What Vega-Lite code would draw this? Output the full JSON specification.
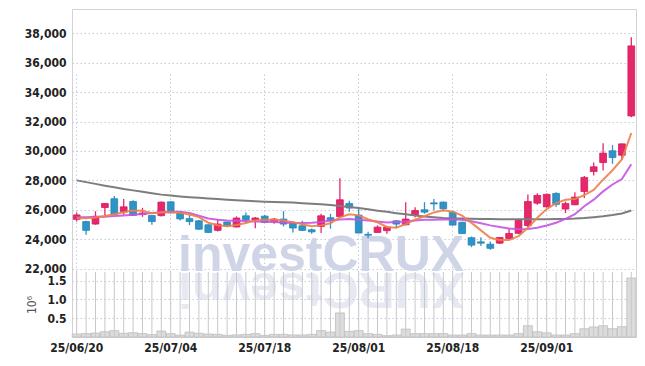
{
  "$schema": "https://vega.github.io/schema/vega-lite/v6.json",
  "width": 564,
  "height": 328,
  "autosize": {"type": "none"},
  "padding": {"left": 72, "top": 9, "right": 9, "bottom": 29},
  "background": "white",
  "config": {
    "view": {"stroke": "#d2d2d8", "strokeWidth": 1},
    "axis": {
      "labelFont": "DejaVu Sans Condensed",
      "labelFontSize": 12,
      "labelFontWeight": "bold",
      "labelColor": "#222222",
      "ticks": false,
      "domain": false,
      "gridColor": "#c6c9dc",
      "gridDash": [1.5, 2.5],
      "gridWidth": 1,
      "labelPadding": 6
    }
  },
  "data": {
    "values": [
      {"d": "25/06/20", "o": 25350, "h": 25820, "l": 25200, "c": 25650, "v": 80000, "ma5": 25430, "ma10": 25500, "mal": 28000},
      {"d": "25/06/23", "o": 25200, "h": 25250, "l": 24300, "c": 24600, "v": 90000, "ma5": 25420, "ma10": 25500, "mal": 27880},
      {"d": "25/06/24", "o": 25030, "h": 25900, "l": 24980, "c": 25550, "v": 105000, "ma5": 25480, "ma10": 25520, "mal": 27760},
      {"d": "25/06/25", "o": 26150, "h": 26450, "l": 25600, "c": 26430, "v": 140000, "ma5": 25580, "ma10": 25520, "mal": 27640},
      {"d": "25/06/26", "o": 26750, "h": 26930, "l": 25680, "c": 25700, "v": 170000, "ma5": 25700, "ma10": 25570, "mal": 27530},
      {"d": "25/06/27", "o": 25860, "h": 26730, "l": 25660, "c": 26200, "v": 100000, "ma5": 25830, "ma10": 25610, "mal": 27420},
      {"d": "25/06/30", "o": 26560, "h": 26650, "l": 25600, "c": 25620, "v": 115000, "ma5": 25950, "ma10": 25660, "mal": 27320},
      {"d": "25/07/01", "o": 25680, "h": 26130, "l": 25520, "c": 25780, "v": 90000, "ma5": 25940, "ma10": 25710, "mal": 27220},
      {"d": "25/07/02", "o": 25610, "h": 25650, "l": 24990, "c": 25200, "v": 65000, "ma5": 25760, "ma10": 25775, "mal": 27120},
      {"d": "25/07/03", "o": 25600, "h": 26560, "l": 25550, "c": 26520, "v": 160000, "ma5": 25840, "ma10": 25820, "mal": 27030},
      {"d": "25/07/04", "o": 26540, "h": 26580, "l": 25770, "c": 25790, "v": 90000, "ma5": 25830, "ma10": 25870, "mal": 26970},
      {"d": "25/07/07", "o": 25820, "h": 25870, "l": 25270, "c": 25380, "v": 50000, "ma5": 25790, "ma10": 25860, "mal": 26910},
      {"d": "25/07/08", "o": 25400, "h": 25660, "l": 24960, "c": 25200, "v": 130000, "ma5": 25680, "ma10": 25780, "mal": 26860},
      {"d": "25/07/09", "o": 25250, "h": 25300, "l": 24620, "c": 24680, "v": 100000, "ma5": 25500, "ma10": 25600, "mal": 26810},
      {"d": "25/07/10", "o": 24980, "h": 25020, "l": 24430, "c": 24460, "v": 80000, "ma5": 25120, "ma10": 25410, "mal": 26770},
      {"d": "25/07/11", "o": 24600, "h": 25370, "l": 24530, "c": 25030, "v": 70000, "ma5": 24950, "ma10": 25320, "mal": 26730},
      {"d": "25/07/14", "o": 25170, "h": 25200, "l": 24830, "c": 24910, "v": 45000, "ma5": 24880, "ma10": 25275, "mal": 26690},
      {"d": "25/07/15", "o": 24830, "h": 25550, "l": 24800, "c": 25440, "v": 55000, "ma5": 24960, "ma10": 25250, "mal": 26650},
      {"d": "25/07/16", "o": 25590, "h": 25820, "l": 25100, "c": 25320, "v": 70000, "ma5": 25100, "ma10": 25230, "mal": 26620},
      {"d": "25/07/17", "o": 25320, "h": 25510, "l": 24750, "c": 25440, "v": 90000, "ma5": 25280, "ma10": 25200, "mal": 26580},
      {"d": "25/07/18", "o": 25570, "h": 25650, "l": 25100, "c": 25140, "v": 45000, "ma5": 25320, "ma10": 25185, "mal": 26550},
      {"d": "25/07/21", "o": 25170, "h": 25440, "l": 25050, "c": 25370, "v": 70000, "ma5": 25330, "ma10": 25165, "mal": 26530},
      {"d": "25/07/22", "o": 25370, "h": 25910, "l": 24870, "c": 25030, "v": 70000, "ma5": 25270, "ma10": 25140, "mal": 26520},
      {"d": "25/07/23", "o": 25140, "h": 25200, "l": 24460, "c": 24760, "v": 55000, "ma5": 25160, "ma10": 25100, "mal": 26490},
      {"d": "25/07/24", "o": 24910, "h": 25250, "l": 24560, "c": 24600, "v": 55000, "ma5": 25010, "ma10": 25095, "mal": 26450},
      {"d": "25/07/25", "o": 24640, "h": 24730, "l": 24370, "c": 24500, "v": 70000, "ma5": 24880, "ma10": 25115, "mal": 26410},
      {"d": "25/07/28", "o": 24870, "h": 25730, "l": 24420, "c": 25590, "v": 170000, "ma5": 24940, "ma10": 25165, "mal": 26380},
      {"d": "25/07/29", "o": 25460, "h": 25730, "l": 24710, "c": 25280, "v": 130000, "ma5": 25080, "ma10": 25275, "mal": 26320},
      {"d": "25/07/30", "o": 25540, "h": 28150, "l": 25500, "c": 26680, "v": 640000, "ma5": 25480, "ma10": 25340, "mal": 26250},
      {"d": "25/07/31", "o": 26430, "h": 26610, "l": 25860, "c": 26120, "v": 150000, "ma5": 25700, "ma10": 25370, "mal": 26190},
      {"d": "25/08/01", "o": 25640, "h": 26100, "l": 24400, "c": 24420, "v": 170000, "ma5": 25620, "ma10": 25320, "mal": 26120},
      {"d": "25/08/04", "o": 24330, "h": 24510, "l": 24070, "c": 24270, "v": 90000, "ma5": 25360, "ma10": 25275, "mal": 26030},
      {"d": "25/08/05", "o": 24460, "h": 24940, "l": 24430, "c": 24820, "v": 70000, "ma5": 25150, "ma10": 25200, "mal": 25940},
      {"d": "25/08/06", "o": 24580, "h": 24860, "l": 24370, "c": 24820, "v": 35000, "ma5": 24830, "ma10": 25140, "mal": 25860},
      {"d": "25/08/07", "o": 25250, "h": 25300, "l": 24760, "c": 25030, "v": 53000, "ma5": 24780, "ma10": 25165, "mal": 25770},
      {"d": "25/08/08", "o": 24980, "h": 26520, "l": 24950, "c": 25370, "v": 210000, "ma5": 25020, "ma10": 25200, "mal": 25690},
      {"d": "25/08/11", "o": 25660, "h": 26180, "l": 25480, "c": 25950, "v": 90000, "ma5": 25330, "ma10": 25275, "mal": 25610},
      {"d": "25/08/12", "o": 26000, "h": 26520, "l": 25730, "c": 25840, "v": 90000, "ma5": 25560, "ma10": 25320, "mal": 25540},
      {"d": "25/08/13", "o": 26470, "h": 26730, "l": 25950, "c": 26400, "v": 90000, "ma5": 25820, "ma10": 25320, "mal": 25490},
      {"d": "25/08/14", "o": 26520, "h": 26560, "l": 25890, "c": 26070, "v": 90000, "ma5": 25960, "ma10": 25340, "mal": 25440},
      {"d": "25/08/18", "o": 25840, "h": 25880, "l": 24930, "c": 24960, "v": 53000, "ma5": 25870, "ma10": 25340, "mal": 25410},
      {"d": "25/08/19", "o": 25150, "h": 25180, "l": 24350, "c": 24380, "v": 53000, "ma5": 25600, "ma10": 25320, "mal": 25400},
      {"d": "25/08/20", "o": 24100, "h": 24180, "l": 23460, "c": 23600, "v": 90000, "ma5": 25110, "ma10": 25215, "mal": 25390},
      {"d": "25/08/21", "o": 23820, "h": 24140, "l": 23540, "c": 23730, "v": 53000, "ma5": 24600, "ma10": 25080, "mal": 25380},
      {"d": "25/08/22", "o": 23660, "h": 23850, "l": 23280, "c": 23380, "v": 53000, "ma5": 24100, "ma10": 24940, "mal": 25370},
      {"d": "25/08/25", "o": 23730, "h": 24150, "l": 23680, "c": 24120, "v": 53000, "ma5": 23940, "ma10": 24830, "mal": 25360},
      {"d": "25/08/26", "o": 24050, "h": 24700, "l": 24000, "c": 24390, "v": 53000, "ma5": 23940, "ma10": 24720, "mal": 25350},
      {"d": "25/08/27", "o": 24400, "h": 25400, "l": 24350, "c": 25270, "v": 90000, "ma5": 24200, "ma10": 24680, "mal": 25350},
      {"d": "25/08/28", "o": 24930, "h": 27040, "l": 24800, "c": 26560, "v": 300000, "ma5": 24780, "ma10": 24700, "mal": 25350},
      {"d": "25/08/29", "o": 26450, "h": 27130, "l": 26350, "c": 26980, "v": 140000, "ma5": 25460, "ma10": 24780, "mal": 25350},
      {"d": "25/09/01", "o": 26200, "h": 27100, "l": 26150, "c": 27050, "v": 110000, "ma5": 26050, "ma10": 24930, "mal": 25360},
      {"d": "25/09/02", "o": 27110, "h": 27200, "l": 26190, "c": 26370, "v": 53000, "ma5": 26450, "ma10": 25120, "mal": 25370},
      {"d": "25/09/03", "o": 26050, "h": 26560, "l": 25780, "c": 26420, "v": 53000, "ma5": 26680, "ma10": 25380, "mal": 25380},
      {"d": "25/09/04", "o": 26340, "h": 27200, "l": 26300, "c": 26860, "v": 90000, "ma5": 26740, "ma10": 25700, "mal": 25400},
      {"d": "25/09/05", "o": 27240, "h": 28300, "l": 26800, "c": 28200, "v": 220000, "ma5": 26990, "ma10": 26240, "mal": 25440},
      {"d": "25/09/08", "o": 28600, "h": 29210, "l": 28330, "c": 28920, "v": 265000, "ma5": 27350, "ma10": 26690, "mal": 25500},
      {"d": "25/09/09", "o": 29210, "h": 30530, "l": 28670, "c": 29850, "v": 300000, "ma5": 28050, "ma10": 27250, "mal": 25560},
      {"d": "25/09/10", "o": 30010, "h": 30390, "l": 29120, "c": 29550, "v": 220000, "ma5": 28690, "ma10": 27720, "mal": 25640},
      {"d": "25/09/11", "o": 29710, "h": 30500, "l": 29400, "c": 30480, "v": 275000, "ma5": 29420, "ma10": 28090, "mal": 25750},
      {"d": "25/09/12", "o": 32380, "h": 37730, "l": 32290, "c": 37140, "v": 1570000, "ma5": 31220, "ma10": 29100, "mal": 25950}
    ]
  },
  "encoding": {
    "x": {
      "field": "d",
      "type": "ordinal",
      "scale": {
        "type": "band",
        "paddingInner": 0,
        "paddingOuter": 0,
        "domain": ["25/06/20","25/06/23","25/06/24","25/06/25","25/06/26","25/06/27","25/06/30","25/07/01","25/07/02","25/07/03","25/07/04","25/07/07","25/07/08","25/07/09","25/07/10","25/07/11","25/07/14","25/07/15","25/07/16","25/07/17","25/07/18","25/07/21","25/07/22","25/07/23","25/07/24","25/07/25","25/07/28","25/07/29","25/07/30","25/07/31","25/08/01","25/08/04","25/08/05","25/08/06","25/08/07","25/08/08","25/08/11","25/08/12","25/08/13","25/08/14","25/08/18","25/08/19","25/08/20","25/08/21","25/08/22","25/08/25","25/08/26","25/08/27","25/08/28","25/08/29","25/09/01","25/09/02","25/09/03","25/09/04","25/09/05","25/09/08","25/09/09","25/09/10","25/09/11","25/09/12"]
      },
      "axis": {
        "values": ["25/06/20", "25/07/04", "25/07/18", "25/08/01", "25/08/18", "25/09/01"],
        "labelAngle": 0,
        "title": null,
        "grid": true,
        "bandPosition": 0.5,
        "labelPadding": 5
      }
    }
  },
  "layer": [
    {
      "encoding": {
        "y": {
          "type": "quantitative",
          "scale": {"domain": [21770, 39650], "range": [263, 0], "nice": false, "zero": false},
          "axis": {
            "values": [22000, 24000, 26000, 28000, 30000, 32000, 34000, 36000, 38000],
            "format": ",d",
            "title": null,
            "grid": true,
            "orient": "left"
          }
        }
      },
      "layer": [
        {
          "transform": [{"filter": "datum.d == '25/07/28'"}],
          "mark": {"type": "text", "font": "Liberation Sans", "fontWeight": "bold", "fontSize": 50, "align": "center", "baseline": "alphabetic", "color": "#cfd5e7"},
          "encoding": {"y": {"datum": 21858}, "text": {"value": "investCRUX"}}
        },
        {
          "transform": [{"filter": "datum.d == '25/07/28'"}],
          "mark": {"type": "text", "font": "Liberation Sans", "fontWeight": "bold", "fontSize": 50, "align": "center", "baseline": "alphabetic", "angle": 180, "color": "#cfd5e7", "opacity": 0.5},
          "encoding": {"y": {"datum": 21690}, "text": {"value": "XURCtsevni"}}
        },
        {
          "mark": {"type": "rule", "strokeWidth": 1.3},
          "encoding": {
            "y": {"field": "l"},
            "y2": {"field": "h"},
            "color": {"condition": {"test": "datum.c >= datum.o", "value": "#e5276b"}, "value": "#2f93c5"}
          }
        },
        {
          "mark": {"type": "bar", "width": {"band": 0.72}, "strokeWidth": 0.8},
          "encoding": {
            "y": {"field": "o"},
            "y2": {"field": "c"},
            "color": {"condition": {"test": "datum.c >= datum.o", "value": "#e5276b"}, "value": "#2f93c5"},
            "stroke": {"condition": {"test": "datum.c >= datum.o", "value": "#d41c5c"}, "value": "#2586b8"}
          }
        },
        {
          "mark": {"type": "line", "color": "#7d7d7d", "strokeWidth": 2},
          "encoding": {"y": {"field": "mal"}}
        },
        {
          "mark": {"type": "line", "color": "#c653e3", "strokeWidth": 2, "opacity": 0.9},
          "encoding": {"y": {"field": "ma10"}}
        },
        {
          "mark": {"type": "line", "color": "#ee7f48", "strokeWidth": 2, "opacity": 0.9},
          "encoding": {"y": {"field": "ma5"}}
        }
      ]
    },
    {
      "layer": [
        {
          "mark": {"type": "bar", "width": {"band": 0.95}, "color": "#dcdcdc", "stroke": "#bdbdbd", "strokeWidth": 0.8},
          "encoding": {
            "y": {
              "field": "v",
              "type": "quantitative",
              "scale": {"domain": [0, 1730000], "range": [328, 263], "nice": false},
              "axis": {
                "values": [500000, 1000000, 1500000],
                "labelExpr": "format(datum.value / 1000000, '.1f')",
                "title": "10⁶",
                "titleFont": "DejaVu Sans Condensed",
                "titleFontWeight": "normal",
                "titleFontSize": 12,
                "titleColor": "#555555",
                "titlePadding": 8,
                "grid": true,
                "orient": "left"
              }
            }
          }
        },
        {
          "mark": {"type": "rule", "color": "#c8c8cc", "strokeWidth": 1},
          "encoding": {"y": {"datum": 1730000, "type": "quantitative"}}
        }
      ]
    }
  ],
  "resolve": {"scale": {"y": "independent"}, "axis": {"y": "independent"}}
}
